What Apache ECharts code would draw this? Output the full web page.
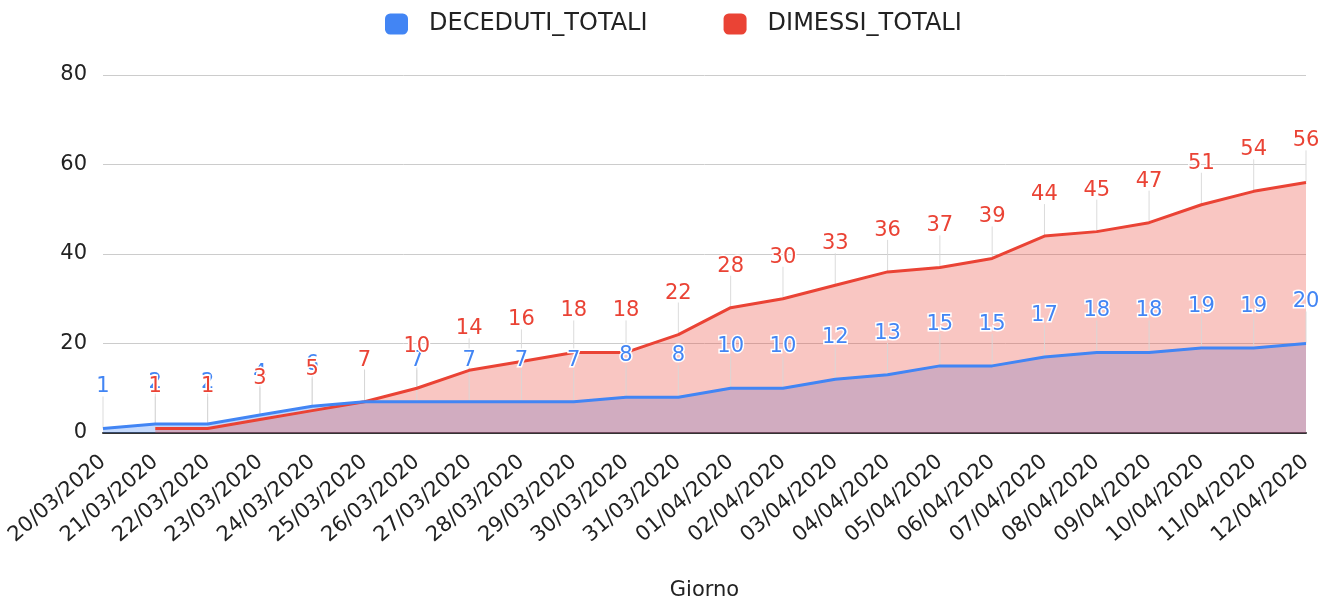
<!DOCTYPE html>
<html><head><meta charset="utf-8">
<script src="https://cdn.jsdelivr.net/npm/echarts@6/dist/echarts.min.js"></script>
<style>html,body{margin:0;padding:0;background:#fff}#c{width:1324px;height:601px}</style>
</head><body><div id="c"></div>
<script>
const categories = ["20/03/2020","21/03/2020","22/03/2020","23/03/2020","24/03/2020","25/03/2020","26/03/2020","27/03/2020","28/03/2020","29/03/2020","30/03/2020","31/03/2020","01/04/2020","02/04/2020","03/04/2020","04/04/2020","05/04/2020","06/04/2020","07/04/2020","08/04/2020","09/04/2020","10/04/2020","11/04/2020","12/04/2020"];
const deceduti = [1,2,2,4,6,7,7,7,7,7,8,8,10,10,12,13,15,15,17,18,18,19,19,20];
const dimessi = [null,1,1,3,5,7,10,14,16,18,18,22,28,30,33,36,37,39,44,45,47,51,54,56];
const yTicks = [0,20,40,60,80];

const BLUE = '#4285f4', RED = '#ea4335';
const FONT = '"DejaVu Sans", sans-serif';
const STEM = 32;

function stemSeries(vals, z) {
  return {
    type: 'custom', z: z, silent: true,
    data: vals.map((v, i) => v == null ? null : [i, v]).filter(d => d),
    renderItem: function (params, api) {
      const p = api.coord([api.value(0), api.value(1)]);
      return { type: 'line', shape: { x1: p[0], y1: p[1], x2: p[0], y2: p[1] - STEM },
        style: { stroke: 'rgba(215,215,215,0.9)', lineWidth: 1 } };
    }
  };
}
function labelSeries(vals, color, z) {
  return {
    type: 'scatter', z: z, silent: true, symbolSize: 0,
    itemStyle: { opacity: 1, color: color },
    data: vals.map((v, i) => v == null ? null : [i, v]).filter(d => d),
    label: { show: true, position: 'top', distance: STEM - 1, formatter: p => p.value[1],
      color: color, opacity: 1, fontSize: 21, fontFamily: FONT, textBorderColor: '#fff', textBorderWidth: 3 }
  };
}
function areaSeries(vals, color, z) {
  return { name: '_area' + z, type: 'line', data: vals, z: z, silent: true, symbol: 'none',
    lineStyle: { width: 0, opacity: 0 }, areaStyle: { color: color, opacity: 0.3 } };
}

const chart = echarts.init(document.getElementById('c'));
chart.setOption({
  animation: false,
  textStyle: { fontFamily: FONT },
  legend: {
    top: 7, left: 380, itemWidth: 23, itemHeight: 21, itemGap: 76, icon: 'roundRect',
    textStyle: { fontSize: 24, color: '#222', fontFamily: FONT, padding: [0, 0, 0, 16] },
    data: ['DECEDUTI_TOTALI', 'DIMESSI_TOTALI']
  },
  grid: { left: 103, right: 18, top: 75, bottom: 168, containLabel: false, outerBoundsMode: 'none' },
  xAxis: {
    type: 'category', data: categories, boundaryGap: false,
    name: 'Giorno', nameLocation: 'middle', nameGap: 147,
    nameTextStyle: { fontSize: 21, color: '#222', fontFamily: FONT },
    axisLine: { lineStyle: { color: '#333', width: 2 } },
    axisTick: { show: false },
    axisLabel: { rotate: 41, fontSize: 21, color: '#222', margin: 26, interval: 0, fontFamily: FONT }
  },
  yAxis: {
    type: 'value', min: yTicks[0], max: yTicks[yTicks.length - 1], interval: 20,
    axisLine: { show: false }, axisTick: { show: false },
    axisLabel: { fontSize: 21, color: '#222', margin: 16, fontFamily: FONT },
    splitLine: { lineStyle: { color: '#cccccc', width: 1 } }
  },
  series: [
    areaSeries(deceduti, BLUE, 1),
    areaSeries(dimessi, RED, 2),
    stemSeries(deceduti, 3),
    stemSeries(dimessi, 3),
    { name: 'DIMESSI_TOTALI', type: 'line', data: dimessi, color: RED, z: 4,
      symbol: 'none', lineStyle: { width: 3, color: RED } },
    { name: 'DECEDUTI_TOTALI', type: 'line', data: deceduti, color: BLUE, z: 4,
      symbol: 'none', lineStyle: { width: 3, color: BLUE } },
    labelSeries(deceduti, BLUE, 6),
    labelSeries(dimessi, RED, 7)
  ]
});
</script></body></html>
